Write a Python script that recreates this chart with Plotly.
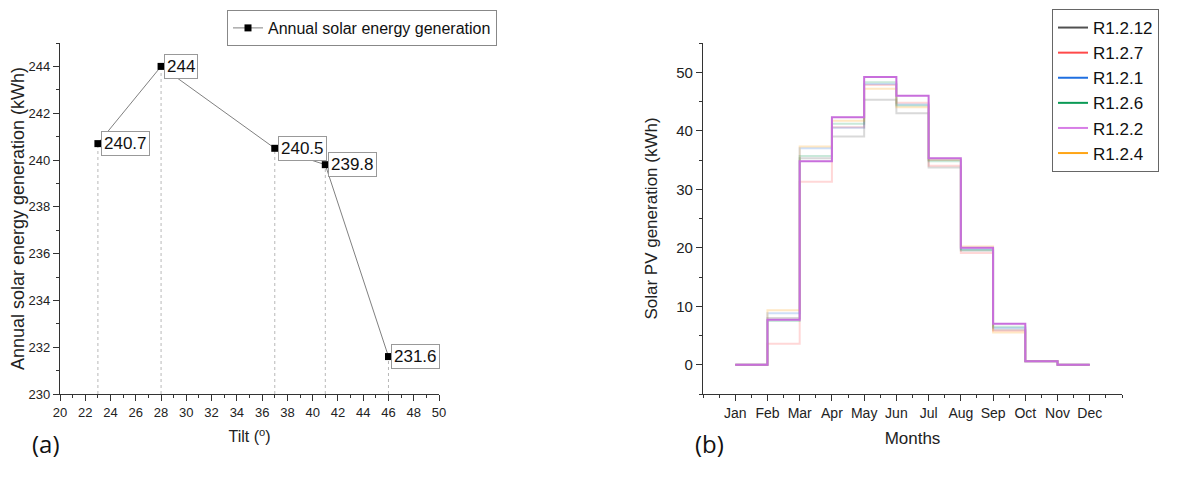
import plotly.graph_objects as go

# ---- data (a) ----
tilt = [23, 28, 37, 41, 46]
annual_kwh = [240.7, 244, 240.5, 239.8, 231.6]

# ---- data (b) ----
months = ["Jan", "Feb", "Mar", "Apr", "May", "Jun", "Jul", "Aug", "Sep", "Oct", "Nov", "Dec"]
series_names = ["R1.2.12", "R1.2.7", "R1.2.1", "R1.2.6", "R1.2.2", "R1.2.4"]
r1_2_12 = [0, 8.0, 35.3, 39.0, 45.3, 43.0, 33.7, 19.5, 6.0, 0.6, 0, 0]
r1_2_7 = [0, 3.6, 31.3, 40.6, 47.8, 44.8, 34.0, 19.1, 5.8, 0.6, 0, 0]
r1_2_1 = [0, 8.8, 37.0, 40.5, 48.0, 44.5, 35.0, 19.8, 6.3, 0.6, 0, 0]
r1_2_6 = [0, 7.5, 35.7, 41.2, 48.3, 44.3, 34.8, 19.6, 6.5, 0.6, 0, 0]
r1_2_2 = [0, 7.7, 34.8, 42.3, 49.2, 46.0, 35.3, 20.0, 7.0, 0.6, 0, 0]
r1_2_4 = [0, 9.3, 37.3, 41.7, 47.2, 44.0, 35.0, 20.2, 5.5, 0.6, 0, 0]
series_values = [r1_2_12, r1_2_7, r1_2_1, r1_2_6, r1_2_2, r1_2_4]
series_colors = ["#505050", "#ff4a4a", "#1f6fe0", "#0a9a55", "#d77ee6", "#ffa515"]
faded_colors = ["rgba(80,80,80,0.22)", "rgba(255,74,74,0.22)", "rgba(31,111,224,0.22)",
                "rgba(10,154,85,0.22)", "rgba(200,110,220,1)", "rgba(255,165,21,0.25)"]

# page body has an 8px default margin, so the figure starts at (8, 8)
OFF = 8
W, H = 1184 - OFF, 479 - OFF
ML, MR, MT, MB = 60 - OFF, 62, 43 - OFF, 85
PW, PH = W - ML - MR, H - MT - MB
FONT = "Liberation Sans, Arial, sans-serif"


def X(p):
    # p: pixel x in the 1184-wide screenshot
    return (p - OFF - ML) / PW


def Y(p):
    return (H - MB - (p - OFF)) / PH


fig = go.Figure()

# drop lines (a)
ymin_a = 230
dx, dy = [], []
for xv, yv in zip(tilt, annual_kwh):
    dx += [xv, xv, None]
    dy += [ymin_a, yv, None]
fig.add_trace(go.Scatter(x=dx, y=dy, mode="lines", xaxis="x", yaxis="y",
                         line=dict(color="#b8b8b8", width=1, dash="dot"),
                         showlegend=False, hoverinfo="skip"))
fig.add_trace(go.Scatter(x=tilt, y=annual_kwh, mode="lines+markers", xaxis="x", yaxis="y",
                         name="Annual solar energy generation", legend="legend",
                         line=dict(color="#808080", width=1),
                         marker=dict(symbol="square", size=7, color="black")))

for xv, yv in zip(tilt, annual_kwh):
    fig.add_annotation(x=xv, y=yv, xref="x", yref="y", text=f"{yv:g}",
                       xanchor="left", yanchor="middle", showarrow=False, xshift=3,
                       font=dict(size=17, color="#111", family=FONT),
                       bordercolor="#999", borderwidth=1, borderpad=2, bgcolor="white")

# (b) step lines, faded ones first, R1.2.2 on top
mx = list(range(1, 13))
draw_order = [0, 1, 2, 3, 5, 4]
for i in draw_order:
    fig.add_trace(go.Scatter(x=mx, y=series_values[i], mode="lines", xaxis="x2", yaxis="y2",
                             line=dict(color=faded_colors[i], width=2, shape="hv"),
                             showlegend=False, name=series_names[i]))
for name, col in zip(series_names, series_colors):
    fig.add_trace(go.Scatter(x=[None], y=[None], mode="lines", xaxis="x2", yaxis="y2",
                             name=name, legend="legend2", line=dict(color=col, width=2)))

axis_common = dict(showline=True, linecolor="#333", linewidth=1.3, ticks="outside",
                   ticklen=6, tickwidth=1, tickcolor="#333", showgrid=False, zeroline=False,
                   automargin=False)

fig.update_layout(
    width=W, height=H, margin=dict(l=ML, r=MR, t=MT, b=MB, autoexpand=False),
    paper_bgcolor="white", plot_bgcolor="white",
    font=dict(family=FONT, color="#222"),
    xaxis=dict(domain=[X(60), X(439)], anchor="y", range=[20, 50], dtick=2, tick0=20,
               minor=dict(dtick=1, ticks="outside", ticklen=3, tickcolor="#333"),
               tickfont=dict(size=13, color="#222", family=FONT),
               title=dict(text="Tilt (<sup>o</sup>)", font=dict(size=16, family=FONT), standoff=12),
               **axis_common),
    yaxis=dict(domain=[0, 1], anchor="x", range=[230, 245], dtick=2, tick0=230,
               minor=dict(dtick=1, ticks="outside", ticklen=3, tickcolor="#333"),
               tickfont=dict(size=13, color="#222", family=FONT),
               title=dict(text="Annual solar energy generation (kWh)", font=dict(size=18, family=FONT), standoff=5),
               **axis_common),
    xaxis2=dict(domain=[X(703), X(1122)], anchor="y2", range=[0, 13],
                tickvals=mx, ticktext=months,
                minor=dict(tickvals=[v / 2 for v in range(0, 27)], ticks="outside", ticklen=3, tickcolor="#333"),
                tickfont=dict(size=14, color="#222", family=FONT),
                title=dict(text="Months", font=dict(size=17, family=FONT), standoff=12),
                **axis_common),
    yaxis2=dict(domain=[0, 1], anchor="x2", range=[-5, 55], dtick=10, tick0=0,
                minor=dict(dtick=5, ticks="outside", ticklen=3, tickcolor="#333"),
                tickfont=dict(size=15, color="#222", family=FONT),
                title=dict(text="Solar PV generation (kWh)", font=dict(size=17, family=FONT), standoff=14),
                **axis_common),
    legend=dict(x=X(227), y=Y(10), xanchor="left", yanchor="top",
                bordercolor="#888", borderwidth=1, bgcolor="white",
                font=dict(size=16, family=FONT, color="#111")),
    legend2=dict(x=X(1052), y=Y(OFF + 1), xanchor="left", yanchor="top",
                 bordercolor="#666", borderwidth=1, bgcolor="white",
                 font=dict(size=17, family=FONT, color="#111"), tracegroupgap=0),
)

fig.add_annotation(x=X(30), y=Y(462), xref="paper", yref="paper", text="(a)",
                   showarrow=False, font=dict(size=24, family="Open Sans, sans-serif", color="#111"))
fig.add_annotation(x=X(709), y=Y(462), xref="paper", yref="paper", text="(b)",
                   showarrow=False, font=dict(size=24, family="Open Sans, sans-serif", color="#111"))

fig.write_html("out.html")
